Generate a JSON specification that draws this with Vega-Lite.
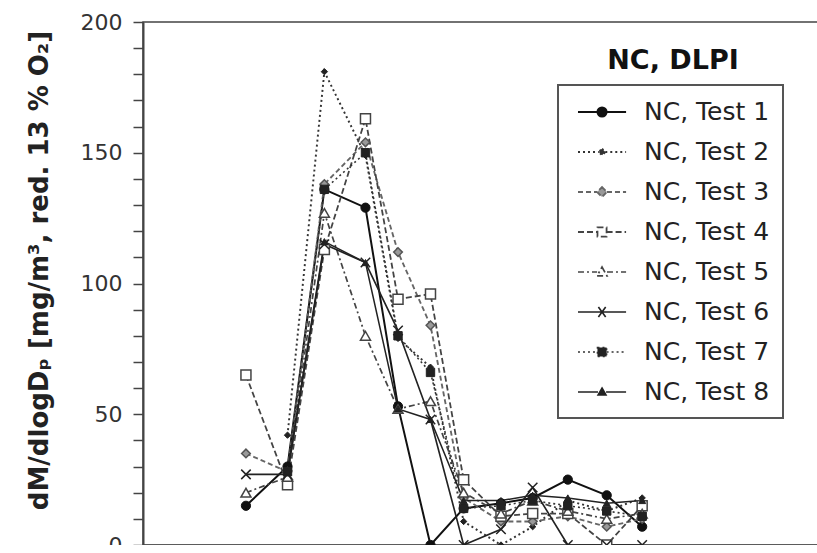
{
  "$schema": "https://vega.github.io/schema/vega-lite/v6.json",
  "width": 684,
  "height": 523,
  "autosize": {"type": "none"},
  "padding": {"left": 143, "top": 22, "right": 0, "bottom": 0},
  "background": "white",
  "config": {
    "font": "DejaVu Sans",
    "view": {"stroke": "#444", "strokeWidth": 1.5}
  },
  "title": {
    "text": "NC, DLPI",
    "anchor": "middle",
    "frame": "group",
    "dx": 188,
    "dy": 68,
    "font": "DejaVu Sans",
    "fontSize": 27,
    "fontWeight": "bold",
    "color": "#111"
  },
  "datasets": {
    "dlpi": [
      {"d": 0.04, "test": "NC, Test 1", "v": 15}, {"d": 0.07, "test": "NC, Test 1", "v": 30}, {"d": 0.115, "test": "NC, Test 1", "v": 136}, {"d": 0.2, "test": "NC, Test 1", "v": 129}, {"d": 0.31, "test": "NC, Test 1", "v": 53}, {"d": 0.48, "test": "NC, Test 1", "v": 0}, {"d": 0.75, "test": "NC, Test 1", "v": 14}, {"d": 1.24, "test": "NC, Test 1", "v": 16}, {"d": 1.9, "test": "NC, Test 1", "v": 18}, {"d": 3.05, "test": "NC, Test 1", "v": 25}, {"d": 5.15, "test": "NC, Test 1", "v": 19}, {"d": 8.3, "test": "NC, Test 1", "v": 7},
      {"d": 0.07, "test": "NC, Test 2", "v": 42}, {"d": 0.115, "test": "NC, Test 2", "v": 181}, {"d": 0.2, "test": "NC, Test 2", "v": 149}, {"d": 0.31, "test": "NC, Test 2", "v": 79}, {"d": 0.48, "test": "NC, Test 2", "v": 68}, {"d": 0.75, "test": "NC, Test 2", "v": 9}, {"d": 1.24, "test": "NC, Test 2", "v": 0}, {"d": 1.9, "test": "NC, Test 2", "v": 7}, {"d": 3.05, "test": "NC, Test 2", "v": 17}, {"d": 5.15, "test": "NC, Test 2", "v": 13}, {"d": 8.3, "test": "NC, Test 2", "v": 18},
      {"d": 0.04, "test": "NC, Test 3", "v": 35}, {"d": 0.07, "test": "NC, Test 3", "v": 28}, {"d": 0.115, "test": "NC, Test 3", "v": 138}, {"d": 0.2, "test": "NC, Test 3", "v": 154}, {"d": 0.31, "test": "NC, Test 3", "v": 112}, {"d": 0.48, "test": "NC, Test 3", "v": 84}, {"d": 0.75, "test": "NC, Test 3", "v": 18}, {"d": 1.24, "test": "NC, Test 3", "v": 9}, {"d": 1.9, "test": "NC, Test 3", "v": 9}, {"d": 3.05, "test": "NC, Test 3", "v": 11}, {"d": 5.15, "test": "NC, Test 3", "v": 7}, {"d": 8.3, "test": "NC, Test 3", "v": 10},
      {"d": 0.04, "test": "NC, Test 4", "v": 65}, {"d": 0.07, "test": "NC, Test 4", "v": 23}, {"d": 0.115, "test": "NC, Test 4", "v": 113}, {"d": 0.2, "test": "NC, Test 4", "v": 163}, {"d": 0.31, "test": "NC, Test 4", "v": 94}, {"d": 0.48, "test": "NC, Test 4", "v": 96}, {"d": 0.75, "test": "NC, Test 4", "v": 25}, {"d": 1.24, "test": "NC, Test 4", "v": 11}, {"d": 1.9, "test": "NC, Test 4", "v": 12}, {"d": 3.05, "test": "NC, Test 4", "v": 12}, {"d": 5.15, "test": "NC, Test 4", "v": 0}, {"d": 8.3, "test": "NC, Test 4", "v": 15},
      {"d": 0.04, "test": "NC, Test 5", "v": 20}, {"d": 0.07, "test": "NC, Test 5", "v": 26}, {"d": 0.115, "test": "NC, Test 5", "v": 127}, {"d": 0.2, "test": "NC, Test 5", "v": 80}, {"d": 0.31, "test": "NC, Test 5", "v": 52}, {"d": 0.48, "test": "NC, Test 5", "v": 55}, {"d": 0.75, "test": "NC, Test 5", "v": 20}, {"d": 1.24, "test": "NC, Test 5", "v": 12}, {"d": 1.9, "test": "NC, Test 5", "v": 17}, {"d": 3.05, "test": "NC, Test 5", "v": 13}, {"d": 5.15, "test": "NC, Test 5", "v": 10}, {"d": 8.3, "test": "NC, Test 5", "v": 12},
      {"d": 0.04, "test": "NC, Test 6", "v": 27}, {"d": 0.07, "test": "NC, Test 6", "v": 27}, {"d": 0.115, "test": "NC, Test 6", "v": 115}, {"d": 0.2, "test": "NC, Test 6", "v": 108}, {"d": 0.31, "test": "NC, Test 6", "v": 82}, {"d": 0.48, "test": "NC, Test 6", "v": 48}, {"d": 0.75, "test": "NC, Test 6", "v": 0}, {"d": 1.24, "test": "NC, Test 6", "v": 6}, {"d": 1.9, "test": "NC, Test 6", "v": 22}, {"d": 3.05, "test": "NC, Test 6", "v": 0}, {"d": 5.15, "test": "NC, Test 6", "v": 0}, {"d": 8.3, "test": "NC, Test 6", "v": 0},
      {"d": 0.07, "test": "NC, Test 7", "v": 28}, {"d": 0.115, "test": "NC, Test 7", "v": 136}, {"d": 0.2, "test": "NC, Test 7", "v": 150}, {"d": 0.31, "test": "NC, Test 7", "v": 80}, {"d": 0.48, "test": "NC, Test 7", "v": 66}, {"d": 0.75, "test": "NC, Test 7", "v": 14}, {"d": 1.24, "test": "NC, Test 7", "v": 15}, {"d": 1.9, "test": "NC, Test 7", "v": 17}, {"d": 3.05, "test": "NC, Test 7", "v": 15}, {"d": 5.15, "test": "NC, Test 7", "v": 13}, {"d": 8.3, "test": "NC, Test 7", "v": 11},
      {"d": 0.07, "test": "NC, Test 8", "v": 28}, {"d": 0.115, "test": "NC, Test 8", "v": 116}, {"d": 0.2, "test": "NC, Test 8", "v": 108}, {"d": 0.31, "test": "NC, Test 8", "v": 52}, {"d": 0.48, "test": "NC, Test 8", "v": 48}, {"d": 0.75, "test": "NC, Test 8", "v": 17}, {"d": 1.24, "test": "NC, Test 8", "v": 17}, {"d": 1.9, "test": "NC, Test 8", "v": 19}, {"d": 3.05, "test": "NC, Test 8", "v": 18}, {"d": 5.15, "test": "NC, Test 8", "v": 16}, {"d": 8.3, "test": "NC, Test 8", "v": 17}
    ]
  },
  "data": {"name": "dlpi"},
  "encoding": {
    "x": {
      "field": "d",
      "type": "quantitative",
      "scale": {"type": "log", "domain": [0.01, 100], "nice": false},
      "axis": {
        "title": null,
        "labels": false,
        "grid": false,
        "values": [0.02, 0.03, 0.04, 0.05, 0.06, 0.07, 0.08, 0.09, 0.1, 0.2, 0.3, 0.4, 0.5, 0.6, 0.7, 0.8, 0.9, 1, 2, 3, 4, 5, 6, 7, 8, 9, 10, 20, 30, 40, 50, 60, 70, 80, 90],
        "tickSize": 7,
        "tickWidth": 1.5,
        "tickColor": "#444",
        "domainColor": "#444",
        "domainWidth": 2,
        "encode": {
          "ticks": {
            "update": {
              "y": {"signal": "abs(log(datum.value)/LN10 - round(log(datum.value)/LN10)) < 0.001 ? -8 : 0"},
              "y2": {"signal": "abs(log(datum.value)/LN10 - round(log(datum.value)/LN10)) < 0.001 ? 8 : -7"}
            }
          }
        }
      }
    },
    "y": {
      "field": "v",
      "type": "quantitative",
      "scale": {"domain": [0, 200], "nice": false},
      "axis": {
        "title": "dM/dlogDₚ [mg/m³, red. 13 % O₂]",
        "titleFont": "DejaVu Sans",
        "titleFontSize": 26,
        "titleFontWeight": "bold",
        "titleColor": "#222",
        "titleAngle": 270,
        "titleAlign": "center",
        "titleBaseline": "middle",
        "titleX": -104,
        "titleY": 248,
        "grid": false,
        "values": [0, 10, 20, 30, 40, 50, 60, 70, 80, 90, 100, 110, 120, 130, 140, 150, 160, 170, 180, 190, 200],
        "labelExpr": "datum.value % 50 === 0 ? datum.label : ''",
        "labelOverlap": false,
        "labelFont": "DejaVu Sans",
        "labelFontSize": 22,
        "labelColor": "#333",
        "labelPadding": 11,
        "tickSize": 10,
        "tickWidth": 1.5,
        "tickColor": "#444",
        "domainColor": "#444",
        "domainWidth": 2,
        "encode": {
          "ticks": {
            "update": {
              "x": {"signal": "datum.value % 50 === 0 ? 5 : 0"},
              "x2": {"signal": "datum.value % 50 === 0 ? -10 : 8"}
            }
          }
        }
      }
    }
  },
  "layer": [
    {
      "mark": {"type": "line"},
      "encoding": {
        "stroke": {
          "field": "test",
          "type": "nominal",
          "scale": {
            "domain": ["NC, Test 1", "NC, Test 2", "NC, Test 3", "NC, Test 4", "NC, Test 5", "NC, Test 6", "NC, Test 7", "NC, Test 8"],
            "range": ["#111", "#333", "#666", "#444", "#444", "#222", "#333", "#222"]
          },
          "legend": {
            "orient": "none",
            "legendX": 415,
            "legendY": 63,
            "title": null,
            "padding": 13,
            "strokeColor": "#555",
            "fillColor": "white",
            "labelFont": "DejaVu Sans",
            "labelFontSize": 25,
            "labelColor": "#222",
            "symbolSize": 676,
            "symbolStrokeWidth": 1.6,
            "rowPadding": 13,
            "labelOffset": 45,
            "encode": {
              "legend": {"update": {"strokeWidth": {"value": 2}}},
              "symbols": {
                "update": {
                  "shape": {"signal": "['M-0.54,0L0.96,0M1.66,0L3.16,0M1.66,0A0.35,0.35,0,1,1,0.96,0A0.35,0.35,0,1,1,1.66,0Z', 'M-0.54,0L1.06,0M1.56,0L3.16,0M1.31,-0.25L1.56,0L1.31,0.25L1.06,0Z', 'M-0.54,0L0.93,0M1.69,0L3.16,0M1.31,-0.38L1.69,0L1.31,0.38L0.93,0Z', 'M-0.54,0L0.96,0M1.66,0L3.16,0M0.96,-0.35L1.66,-0.35L1.66,0.35L0.96,0.35Z', 'M-0.54,0L0.93,0M1.69,0L3.16,0M1.31,-0.38L1.69,0.3L0.93,0.3Z', 'M-0.54,0L3.16,0M1.03,-0.38L1.59,0.38M1.03,0.38L1.59,-0.38', 'M-0.54,0L0.96,0M1.66,0L3.16,0M0.96,-0.35L1.66,-0.35L1.66,0.35L0.96,0.35Z', 'M-0.54,0L1.0,0M1.62,0L3.16,0M1.31,-0.31L1.62,0.23L1.0,0.23Z'][toNumber(slice(datum.value, -1)) - 1]"},
                  "fill": {"signal": "['#111', '#333', '#999', 'white', 'white', 'none', '#222', '#222'][toNumber(slice(datum.value, -1)) - 1]"},
                  "strokeDash": {"signal": "[[], [2, 3], [5, 3], [6, 3], [6, 3, 2, 3], [], [2, 3], []][toNumber(slice(datum.value, -1)) - 1]"}
                }
              }
            }
          }
        },
        "strokeDash": {
          "field": "test",
          "type": "nominal",
          "legend": null,
          "scale": {
            "domain": ["NC, Test 1", "NC, Test 2", "NC, Test 3", "NC, Test 4", "NC, Test 5", "NC, Test 6", "NC, Test 7", "NC, Test 8"],
            "range": [[], [2, 3], [5, 3], [6, 3], [6, 3, 2, 3], [], [2, 3], []]
          }
        },
        "strokeWidth": {
          "field": "test",
          "type": "nominal",
          "legend": null,
          "scale": {
            "domain": ["NC, Test 1", "NC, Test 2", "NC, Test 3", "NC, Test 4", "NC, Test 5", "NC, Test 6", "NC, Test 7", "NC, Test 8"],
            "range": [2, 1.5, 1.5, 1.5, 1.5, 2, 1.5, 2]
          }
        }
      }
    },
    {
      "transform": [{"filter": "datum.test === 'NC, Test 1'"}],
      "mark": {"type": "point", "shape": "circle", "filled": true, "fill": "#111", "stroke": "#111", "strokeWidth": 1, "size": 85, "opacity": 1}
    },
    {
      "transform": [{"filter": "datum.test === 'NC, Test 2'"}],
      "mark": {"type": "point", "shape": "diamond", "filled": true, "fill": "#222", "stroke": "#222", "strokeWidth": 1, "size": 40, "opacity": 1}
    },
    {
      "transform": [{"filter": "datum.test === 'NC, Test 3'"}],
      "mark": {"type": "point", "shape": "diamond", "filled": true, "fill": "#999", "stroke": "#555", "strokeWidth": 1.5, "size": 75, "opacity": 1}
    },
    {
      "transform": [{"filter": "datum.test === 'NC, Test 4'"}],
      "mark": {"type": "point", "shape": "square", "filled": false, "fill": "white", "stroke": "#444", "strokeWidth": 1.5, "size": 100, "opacity": 1}
    },
    {
      "transform": [{"filter": "datum.test === 'NC, Test 5'"}],
      "mark": {"type": "point", "shape": "triangle-up", "filled": false, "fill": "white", "stroke": "#444", "strokeWidth": 1.5, "size": 100, "opacity": 1}
    },
    {
      "transform": [{"filter": "datum.test === 'NC, Test 6'"}],
      "mark": {"type": "point", "shape": "M-1,-1L1,1M-1,1L1,-1", "filled": false, "stroke": "#222", "strokeWidth": 1.5, "size": 90, "opacity": 1}
    },
    {
      "transform": [{"filter": "datum.test === 'NC, Test 7'"}],
      "mark": {"type": "point", "shape": "square", "filled": true, "fill": "#222", "stroke": "#222", "strokeWidth": 1, "size": 70, "opacity": 1}
    },
    {
      "transform": [{"filter": "datum.test === 'NC, Test 8'"}],
      "mark": {"type": "point", "shape": "triangle-up", "filled": true, "fill": "#222", "stroke": "#222", "strokeWidth": 1, "size": 50, "opacity": 1}
    }
  ]
}
